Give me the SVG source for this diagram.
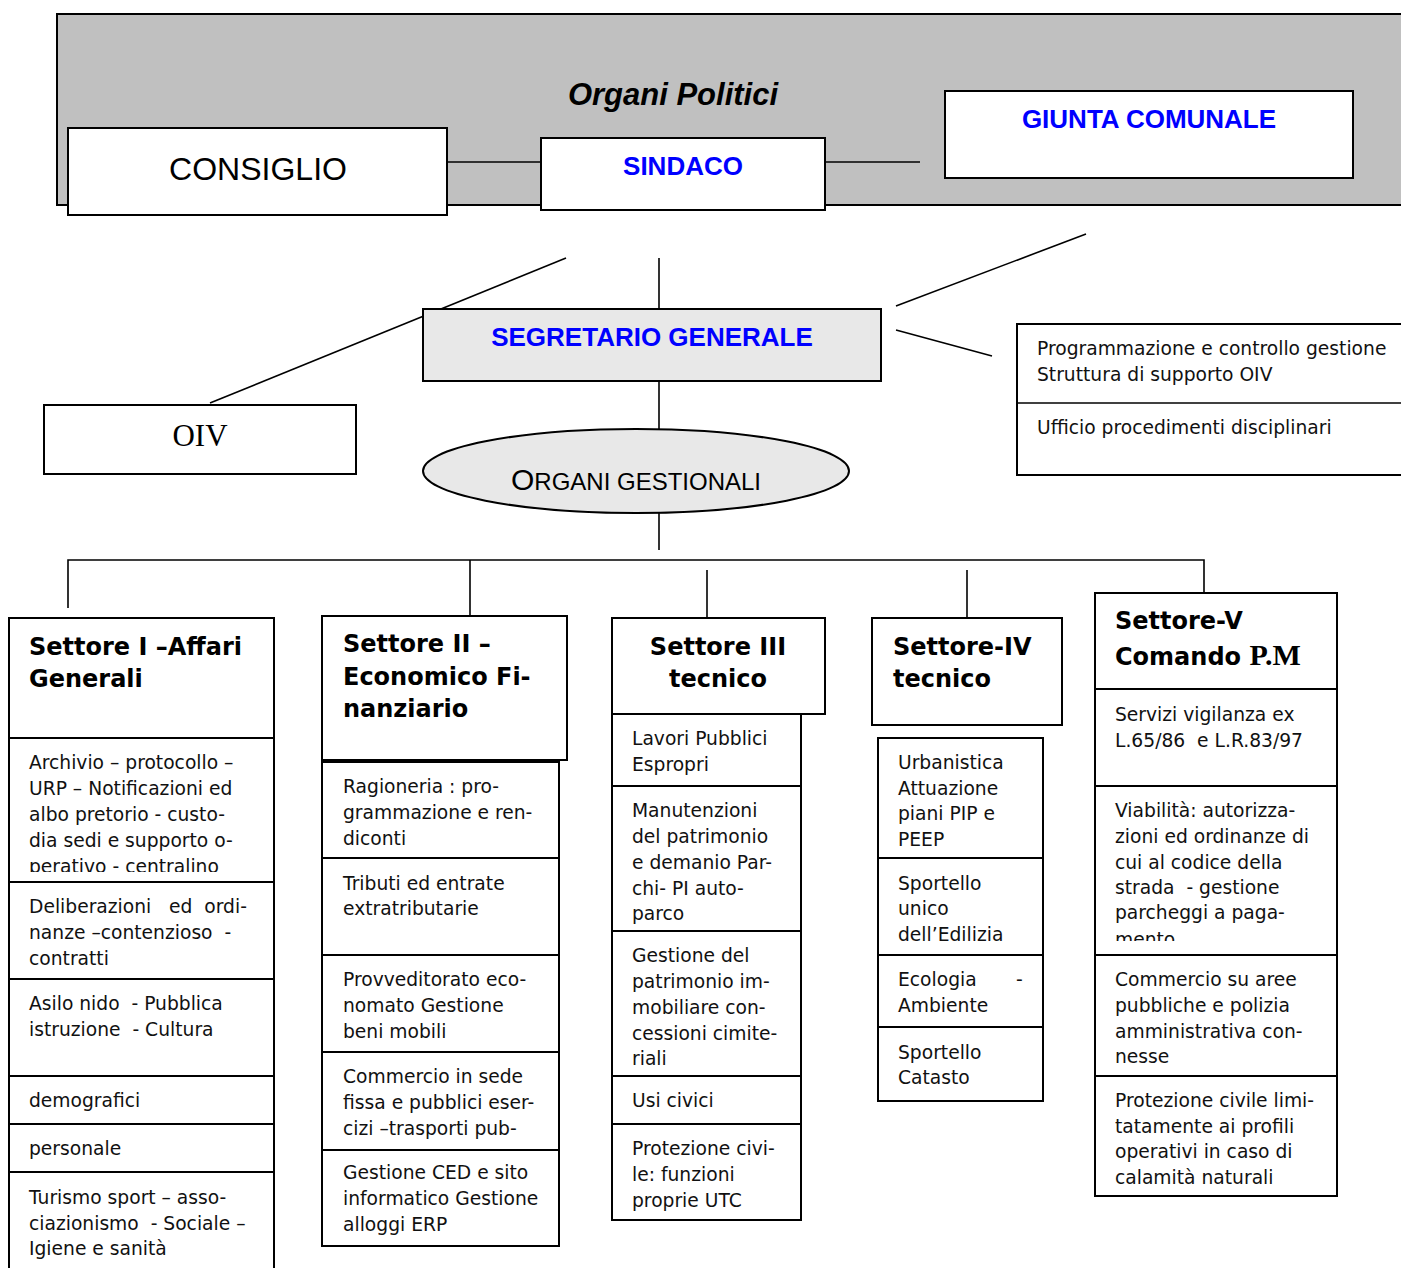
<svg xmlns="http://www.w3.org/2000/svg" width="1401" height="1268" viewBox="0 0 1401 1268">
<style>
.box{fill:#fff;stroke:#000;stroke-width:2}
.gbox{fill:#e8e8e8;stroke:#000;stroke-width:2}
.ln{stroke:#000;stroke-width:1.6;fill:none}
.t{font-family:"DejaVu Sans",Verdana,sans-serif;font-size:18.7px;fill:#111}
.h{font-family:"DejaVu Sans",Verdana,sans-serif;font-size:24px;font-weight:bold;fill:#000}
.blue{font-family:"Liberation Sans",Arial,sans-serif;font-size:26px;font-weight:bold;fill:#0000ff}
</style>
<defs>
<clipPath id="c1"><rect x="9" y="738" width="265" height="134"/></clipPath>
<clipPath id="c5"><rect x="1095" y="786" width="242" height="155"/></clipPath>
</defs>
<rect x="0" y="0" width="1401" height="1268" fill="#fff"/>

<g id="organi-politici">
<rect x="57" y="14" width="1360" height="191" fill="#c0c0c0" stroke="#000" stroke-width="2"/>
<text x="673" y="105" text-anchor="middle" font-family="Liberation Sans,Arial,sans-serif" font-size="31" font-weight="bold" font-style="italic">Organi Politici</text>
</g>

<g id="connectors">
<line class="ln" x1="447" y1="162" x2="541" y2="162"/>
<line class="ln" x1="825" y1="162" x2="920" y2="162"/>
<line class="ln" x1="566" y1="258" x2="210" y2="403"/>
<line class="ln" x1="659" y1="258" x2="659" y2="309"/>
<line class="ln" x1="659" y1="381" x2="659" y2="430"/>
<line class="ln" x1="659" y1="513" x2="659" y2="550"/>
<line class="ln" x1="1086" y1="234" x2="896" y2="306"/>
<line class="ln" x1="896" y1="330" x2="992" y2="356"/>
<polyline class="ln" points="68,608 68,560 1204,560 1204,593"/>
<line class="ln" x1="470" y1="560" x2="470" y2="616"/>
<line class="ln" x1="707" y1="570" x2="707" y2="618"/>
<line class="ln" x1="967" y1="570" x2="967" y2="620"/>
</g>

<g id="consiglio">
<rect class="box" x="68" y="128" width="379" height="87"/>
<text x="258" y="180" text-anchor="middle" font-family="Liberation Sans,Arial,sans-serif" font-size="32">CONSIGLIO</text>
</g>
<g id="sindaco">
<rect class="box" x="541" y="138" width="284" height="72"/>
<text class="blue" x="683" y="175" text-anchor="middle">SINDACO</text>
</g>
<g id="giunta">
<rect class="box" x="945" y="91" width="408" height="87"/>
<text class="blue" x="1149" y="128" text-anchor="middle">GIUNTA COMUNALE</text>
</g>

<g id="segretario">
<rect class="gbox" x="423" y="309" width="458" height="72"/>
<text class="blue" x="652" y="346" text-anchor="middle">SEGRETARIO GENERALE</text>
</g>

<g id="oiv">
<rect class="box" x="44" y="405" width="312" height="69"/>
<text x="200" y="446" text-anchor="middle" font-family="Liberation Serif,Times New Roman,serif" font-size="31">OIV</text>
</g>

<g id="staff">
<rect class="box" x="1017" y="324" width="400" height="151"/>
<line class="ln" x1="1017" y1="403" x2="1401" y2="403" stroke-width="2"/>
<text class="t" x="1037" y="355">Programmazione e controllo gestione</text>
<text class="t" x="1037" y="381">Struttura di supporto OIV</text>
<text class="t" x="1037" y="434">Ufficio procedimenti disciplinari</text>
</g>

<g id="organi-gestionali">
<ellipse cx="636" cy="471" rx="213" ry="42" fill="#e8e8e8" stroke="#000" stroke-width="2"/>
<text x="636" y="490" text-anchor="middle" font-family="Liberation Sans,Arial,sans-serif" font-size="24"><tspan font-size="30">O</tspan>RGANI GESTIONALI</text>
</g>

<g id="settore-1">
<rect class="box" x="9" y="618" width="265" height="120"/>
<text class="h" x="29" y="655">Settore I –Affari</text>
<text class="h" x="29" y="687">Generali</text>
<rect class="box" x="9" y="738" width="265" height="144"/>
<g clip-path="url(#c1)">
<text class="t" x="29" y="769">Archivio – protocollo –</text>
<text class="t" x="29" y="795">URP – Notificazioni ed</text>
<text class="t" x="29" y="821">albo pretorio  - custo-</text>
<text class="t" x="29" y="847">dia sedi e supporto o-</text>
<text class="t" x="29" y="873">perativo - centralino</text>
</g>
<rect class="box" x="9" y="882" width="265" height="97"/>
<text class="t" x="29" y="913" xml:space="preserve">Deliberazioni   ed  ordi-</text>
<text class="t" x="29" y="939" xml:space="preserve">nanze –contenzioso  -</text>
<text class="t" x="29" y="965">contratti</text>
<rect class="box" x="9" y="979" width="265" height="97"/>
<text class="t" x="29" y="1010" xml:space="preserve">Asilo nido  - Pubblica</text>
<text class="t" x="29" y="1036" xml:space="preserve">istruzione  - Cultura</text>
<rect class="box" x="9" y="1076" width="265" height="48"/>
<text class="t" x="29" y="1107">demografici</text>
<rect class="box" x="9" y="1124" width="265" height="48"/>
<text class="t" x="29" y="1155">personale</text>
<rect class="box" x="9" y="1172" width="265" height="100"/>
<text class="t" x="29" y="1204">Turismo sport – asso-</text>
<text class="t" x="29" y="1230" xml:space="preserve">ciazionismo  - Sociale –</text>
<text class="t" x="29" y="1255">Igiene e sanità</text>
</g>

<g id="settore-2">
<rect class="box" x="322" y="616" width="245" height="144"/>
<text class="h" x="343" y="652">Settore II –</text>
<text class="h" x="343" y="685">Economico Fi-</text>
<text class="h" x="343" y="717">nanziario</text>
<rect class="box" x="322" y="762" width="237" height="96"/>
<text class="t" x="343" y="793">Ragioneria : pro-</text>
<text class="t" x="343" y="819">grammazione e ren-</text>
<text class="t" x="343" y="845">diconti</text>
<rect class="box" x="322" y="858" width="237" height="97"/>
<text class="t" x="343" y="890">Tributi ed entrate</text>
<text class="t" x="343" y="915">extratributarie</text>
<rect class="box" x="322" y="955" width="237" height="97"/>
<text class="t" x="343" y="986">Provveditorato eco-</text>
<text class="t" x="343" y="1012">nomato Gestione</text>
<text class="t" x="343" y="1038">beni mobili</text>
<rect class="box" x="322" y="1052" width="237" height="98"/>
<text class="t" x="343" y="1083">Commercio in sede</text>
<text class="t" x="343" y="1109">fissa e pubblici eser-</text>
<text class="t" x="343" y="1135">cizi –trasporti pub-</text>
<rect class="box" x="322" y="1150" width="237" height="96"/>
<text class="t" x="343" y="1179">Gestione CED e sito</text>
<text class="t" x="343" y="1205">informatico Gestione</text>
<text class="t" x="343" y="1231">alloggi ERP</text>
</g>

<g id="settore-3">
<rect class="box" x="612" y="618" width="213" height="96"/>
<text class="h" x="718" y="655" text-anchor="middle">Settore III</text>
<text class="h" x="718" y="687" text-anchor="middle">tecnico</text>
<rect class="box" x="612" y="714" width="189" height="72"/>
<text class="t" x="632" y="745">Lavori Pubblici</text>
<text class="t" x="632" y="771">Espropri</text>
<rect class="box" x="612" y="786" width="189" height="145"/>
<text class="t" x="632" y="817">Manutenzioni</text>
<text class="t" x="632" y="843">del patrimonio</text>
<text class="t" x="632" y="869">e demanio Par-</text>
<text class="t" x="632" y="895">chi- PI auto-</text>
<text class="t" x="632" y="920">parco</text>
<rect class="box" x="612" y="931" width="189" height="145"/>
<text class="t" x="632" y="962">Gestione del</text>
<text class="t" x="632" y="988">patrimonio im-</text>
<text class="t" x="632" y="1014">mobiliare con-</text>
<text class="t" x="632" y="1040">cessioni cimite-</text>
<text class="t" x="632" y="1065">riali</text>
<rect class="box" x="612" y="1076" width="189" height="48"/>
<text class="t" x="632" y="1107">Usi civici</text>
<rect class="box" x="612" y="1124" width="189" height="96"/>
<text class="t" x="632" y="1155">Protezione civi-</text>
<text class="t" x="632" y="1181">le: funzioni</text>
<text class="t" x="632" y="1207">proprie UTC</text>
</g>

<g id="settore-4">
<rect class="box" x="872" y="618" width="190" height="107"/>
<text class="h" x="893" y="655">Settore-IV</text>
<text class="h" x="893" y="687">tecnico</text>
<rect class="box" x="878" y="738" width="165" height="120"/>
<text class="t" x="898" y="769">Urbanistica</text>
<text class="t" x="898" y="795">Attuazione</text>
<text class="t" x="898" y="820">piani PIP e</text>
<text class="t" x="898" y="846">PEEP</text>
<rect class="box" x="878" y="858" width="165" height="97"/>
<text class="t" x="898" y="890">Sportello</text>
<text class="t" x="898" y="915">unico</text>
<text class="t" x="898" y="941">dell’Edilizia</text>
<rect class="box" x="878" y="955" width="165" height="72"/>
<text class="t" x="898" y="986">Ecologia</text>
<text class="t" x="1016" y="986">-</text>
<text class="t" x="898" y="1012">Ambiente</text>
<rect class="box" x="878" y="1027" width="165" height="74"/>
<text class="t" x="898" y="1059">Sportello</text>
<text class="t" x="898" y="1084">Catasto</text>
</g>

<g id="settore-5">
<rect class="box" x="1095" y="593" width="242" height="96"/>
<text class="h" x="1115" y="629">Settore-V</text>
<text class="h" x="1115" y="665">Comando <tspan font-family="Liberation Serif,Times New Roman,serif" font-size="30">P.M</tspan></text>
<rect class="box" x="1095" y="689" width="242" height="97"/>
<text class="t" x="1115" y="721">Servizi vigilanza ex</text>
<text class="t" x="1115" y="747" xml:space="preserve">L.65/86  e L.R.83/97</text>
<rect class="box" x="1095" y="786" width="242" height="169"/>
<g clip-path="url(#c5)">
<text class="t" x="1115" y="817">Viabilità: autorizza-</text>
<text class="t" x="1115" y="843">zioni ed ordinanze di</text>
<text class="t" x="1115" y="869">cui al codice della</text>
<text class="t" x="1115" y="894" xml:space="preserve">strada  - gestione</text>
<text class="t" x="1115" y="919">parcheggi a paga-</text>
<text class="t" x="1115" y="946">mento</text>
</g>
<rect class="box" x="1095" y="955" width="242" height="121"/>
<text class="t" x="1115" y="986">Commercio su aree</text>
<text class="t" x="1115" y="1012">pubbliche e polizia</text>
<text class="t" x="1115" y="1038">amministrativa con-</text>
<text class="t" x="1115" y="1063">nesse</text>
<rect class="box" x="1095" y="1076" width="242" height="120"/>
<text class="t" x="1115" y="1107">Protezione civile limi-</text>
<text class="t" x="1115" y="1133">tatamente ai profili</text>
<text class="t" x="1115" y="1158">operativi in caso di</text>
<text class="t" x="1115" y="1184">calamità naturali</text>
</g>
</svg>
